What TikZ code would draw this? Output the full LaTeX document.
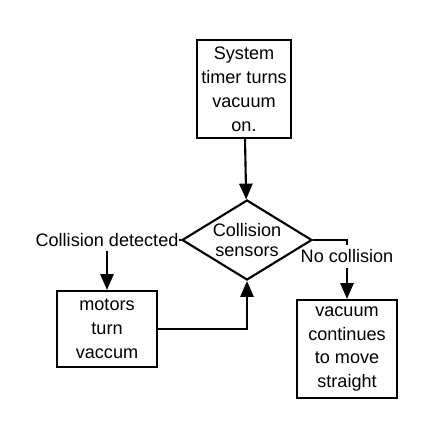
\documentclass[tikz,border=0pt]{standalone}
\usepackage{fontspec}
\setmainfont{Liberation Sans}
\usetikzlibrary{shapes.geometric,arrows.meta}
\pgfdeclarelayer{lines}
\pgfsetlayers{lines,main}
\begin{document}
\begin{tikzpicture}[font=\fontsize{10.3}{13.6}\selectfont,
    block/.style={rectangle, draw, line width=1.2pt, fill=white, align=center, minimum width=2cm, inner sep=0pt},
    decision/.style={diamond, draw, line width=1.2pt, fill=white, align=center, font=\fontsize{10.3}{11.3}\selectfont, aspect=1.625, minimum width=2.6cm, minimum height=1.6cm, inner sep=0pt},
    lbl/.style={fill=white, inner xsep=0.5pt, inner ysep=2.5pt},
    line/.style={draw, line width=1.2pt, -{Triangle[length=9pt,width=7.5pt]}}]
    \useasboundingbox (0,0) rectangle (8.74,-8.76);
    \node [block, minimum width=1.88cm, minimum height=1.96cm] (timer) at (4.88,-1.78) {System\\timer turns\\vacuum\\on.};
    \node [decision] (sensors) at (4.94,-4.8) {Collision\\sensors};
    \node [block, minimum height=1.52cm] (motors) at (2.14,-6.58) {motors\\turn\\vaccum};
    \node [block, minimum height=1.96cm] (straight) at (6.94,-6.98) {vacuum\\continues\\to move\\straight};

    % connectors go under the shapes
    \begin{pgfonlayer}{lines}
    \path [line] (timer) -- (sensors);
    \path [line] (sensors.west) -| node [lbl, pos=0.5] {Collision detected} (motors.north);
    \path [line] (sensors.east) -| node [lbl, pos=0.64] {No collision} (straight.north);
    \path [line] (motors.east) -| (sensors.south);
    \end{pgfonlayer}
\end{tikzpicture}
\end{document}
